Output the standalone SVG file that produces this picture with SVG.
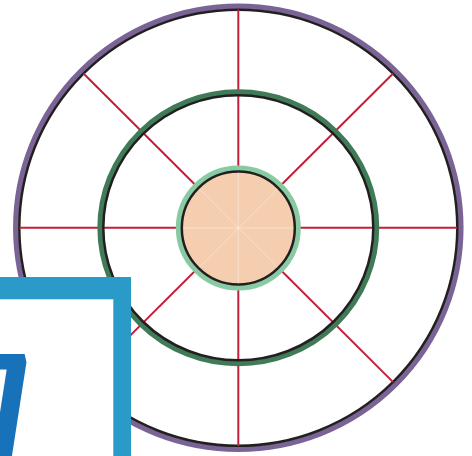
<svg xmlns="http://www.w3.org/2000/svg" width="472" height="456" viewBox="0 0 472 456">
  <style>
    .spoke { stroke: #C41E3A; stroke-width: 2; fill: none; }
    .faint { stroke: #ffffff; stroke-opacity: 0.35; stroke-width: 1; fill: none; }
    .ring-black { fill: none; stroke: #231F20; stroke-width: 2.5; }
  </style>
  <rect width="472" height="456" fill="#ffffff"/>
  <g id="outer-circle">
    <ellipse cx="238.3" cy="227.8" rx="222.5" ry="221.5" fill="none" stroke="#7A6496" stroke-width="5.5"/>
    <ellipse cx="238.3" cy="227.8" rx="219" ry="218" class="ring-black"/>
  </g>
  <g id="connectors">
    <line class="spoke" x1="238.3" y1="227.8" x2="238.3" y2="9.5"/>
    <line class="spoke" x1="238.3" y1="227.8" x2="238.3" y2="446"/>
    <line class="spoke" x1="238.3" y1="227.8" x2="19.5" y2="227.8"/>
    <line class="spoke" x1="238.3" y1="227.8" x2="457" y2="227.8"/>
    <line class="spoke" x1="238.3" y1="227.8" x2="83.5" y2="73.5"/>
    <line class="spoke" x1="238.3" y1="227.8" x2="393.1" y2="73.5"/>
    <line class="spoke" x1="238.3" y1="227.8" x2="83.5" y2="382.1"/>
    <line class="spoke" x1="238.3" y1="227.8" x2="393.1" y2="382.1"/>
  </g>
  <g id="middle-circle">
    <ellipse cx="238.3" cy="227.8" rx="138.2" ry="135.7" fill="none" stroke="#3F7B57" stroke-width="5.5"/>
    <ellipse cx="238.3" cy="227.8" rx="135" ry="132.5" class="ring-black"/>
  </g>
  <g id="inner-circle">
    <circle cx="238.3" cy="228" r="59.5" fill="none" stroke="#88CBA2" stroke-width="6"/>
    <circle cx="238.3" cy="228" r="56.5" fill="#F5CEB0" stroke="#231F20" stroke-width="2.5"/>
    <line class="faint" x1="238.3" y1="172.5" x2="238.3" y2="283.5"/>
    <line class="faint" x1="183" y1="228" x2="293.6" y2="228"/>
    <line class="faint" x1="199" y1="188.7" x2="277.6" y2="267.3"/>
    <line class="faint" x1="277.6" y1="188.7" x2="199" y2="267.3"/>
  </g>
  <g id="frame">
    <rect x="0" y="277" width="131" height="179" fill="#ffffff"/>
    <rect x="0" y="277" width="131" height="22.3" fill="#2A9AC8"/>
    <rect x="113.3" y="277" width="17.7" height="179" fill="#2A9AC8"/>
    <text transform="translate(-34,464.5) skewX(13)" font-family="DejaVu Sans, sans-serif" font-size="150" fill="#1872B9" stroke="#1872B9" stroke-width="3" stroke-linejoin="miter">7</text>
  </g>
</svg>
